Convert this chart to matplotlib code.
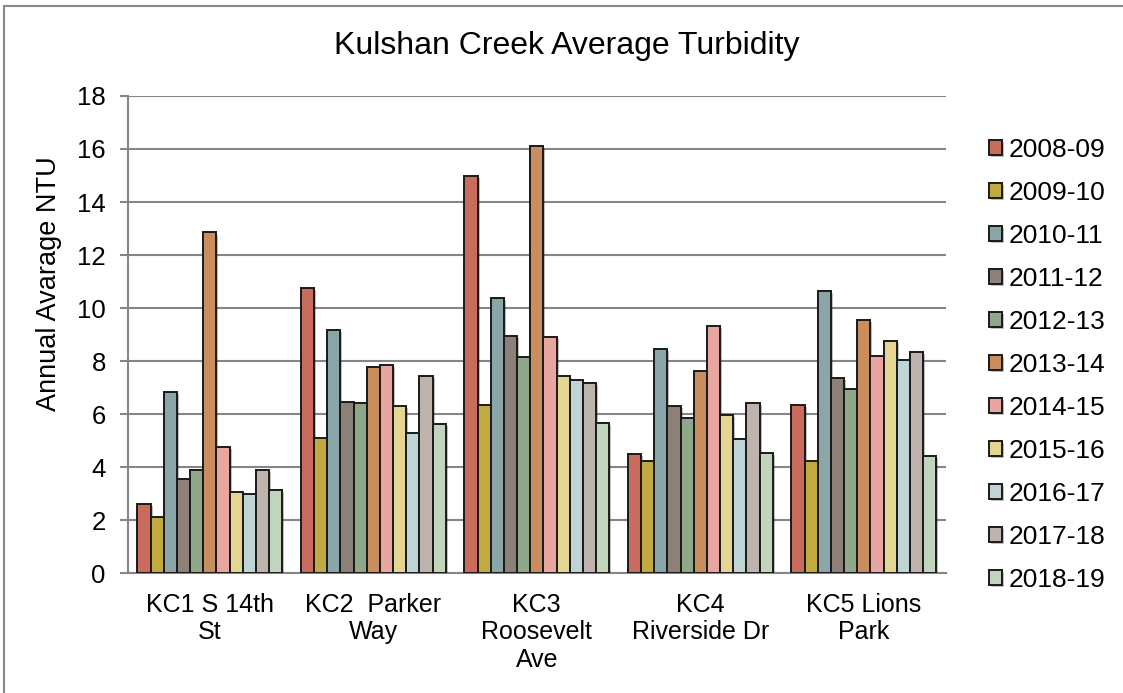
import numpy as np
import matplotlib
matplotlib.use("Agg")
import matplotlib.pyplot as plt
import matplotlib.patheffects as pe
from matplotlib.patches import Rectangle

sites = ["KC1 S 14th\nSt", "KC2  Parker\nWay", "KC3\nRoosevelt\nAve", "KC4\nRiverside Dr", "KC5 Lions\nPark"]
years = ["2008-09", "2009-10", "2010-11", "2011-12", "2012-13", "2013-14",
         "2014-15", "2015-16", "2016-17", "2017-18", "2018-19"]

# annual average NTU per site, one list per water year
ntu_0809 = [2.62, 10.76, 14.97, 4.51, 6.35]
ntu_0910 = [2.12, 5.08, 6.35, 4.22, 4.23]
ntu_1011 = [6.84, 9.17, 10.39, 8.44, 10.64]
ntu_1112 = [3.56, 6.47, 8.94, 6.32, 7.37]
ntu_1213 = [3.88, 6.41, 8.15, 5.84, 6.93]
ntu_1314 = [12.85, 7.78, 16.12, 7.63, 9.56]
ntu_1415 = [4.77, 7.85, 8.92, 9.32, 8.19]
ntu_1516 = [3.06, 6.31, 7.43, 5.97, 8.75]
ntu_1617 = [2.97, 5.30, 7.28, 5.05, 8.05]
ntu_1718 = [3.89, 7.44, 7.18, 6.41, 8.36]
ntu_1819 = [3.15, 5.62, 5.67, 4.52, 4.41]

series = [ntu_0809, ntu_0910, ntu_1011, ntu_1112, ntu_1213, ntu_1314,
          ntu_1415, ntu_1516, ntu_1617, ntu_1718, ntu_1819]
colors = ["#C96C5E", "#C1AA40", "#8BA6A8", "#8C8078", "#8FA88A", "#C98D5E",
          "#E9A6A0", "#E5D593", "#BFD4D5", "#BEB4AD", "#C0D5BC"]

plt.rcParams["font.family"] = ["Liberation Sans", "DejaVu Sans"]

fig = plt.figure(figsize=(11.23, 6.93), dpi=100)
ax = fig.add_axes([0.114, 0.173, 0.728, 0.6885])

# light frame around the whole chart
fig.patches.append(Rectangle((4 / 1123, -0.01), 1.2, 1 - 6 / 693 + 0.01,
                             transform=fig.transFigure, fill=False,
                             edgecolor="#8a8a8a", linewidth=1.5))

n = len(series)
group = 0.886
width = group / n
x = np.arange(len(sites))
shadow = [pe.SimplePatchShadow(offset=(1.5, -1.5), shadow_rgbFace="#000000", alpha=0.25), pe.Normal()]
for i, (vals, c, lab) in enumerate(zip(series, colors, years)):
    pos = x - group / 2 + width * (i + 0.5)
    bars = ax.bar(pos, vals, width, color=c, edgecolor="#1a1a1a", linewidth=1.4,
                  label=lab, zorder=3)
    for b in bars:
        b.set_path_effects(shadow)

ax.set_xlim(-0.5, len(sites) - 0.5)
ax.set_ylim(0, 18)
ax.set_yticks(np.arange(0, 19, 2))
ax.yaxis.grid(True, color="#868686", linewidth=1.5, zorder=0)
ax.set_axisbelow(True)
for s in ["top", "right"]:
    ax.spines[s].set_visible(False)
ax.spines["left"].set_color("#868686")
ax.spines["left"].set_linewidth(1.5)
ax.spines["bottom"].set_color("#868686")
ax.spines["bottom"].set_linewidth(1.5)
ax.tick_params(axis="y", length=6, width=1.5, color="#868686", pad=10, labelsize=18.5)
ax.tick_params(axis="x", length=0, pad=14)
ax.set_xticks(x)
ax.set_xticklabels(sites, fontsize=18, linespacing=1.2)

ax.set_ylabel("Annual Avarage NTU", fontsize=19.5)
ax.yaxis.set_label_coords(-0.081, 0.606)
fig.text(0.505, 0.934, "Kulshan Creek Average Turbidity", ha="center", va="center", fontsize=23)

leg = ax.legend(loc="upper left", bbox_to_anchor=(1.04, 0.935), frameon=False,
                fontsize=19, handlelength=0.5, handleheight=0.5, handletextpad=0.25,
                labelspacing=0.72, borderaxespad=0)

fig.savefig("out.png", dpi=100)
